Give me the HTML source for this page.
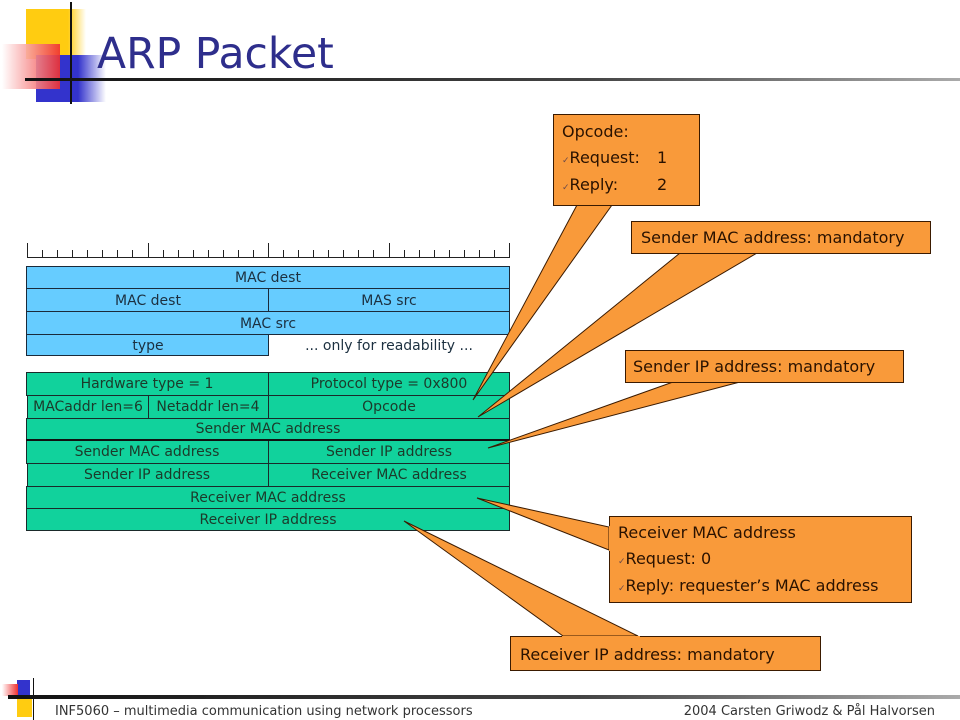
<!DOCTYPE html>
<html><head><meta charset="utf-8"><style>
html,body{margin:0;padding:0;background:#fff;}
svg{display:block;}
text{font-family:"DejaVu Sans","Liberation Sans",sans-serif;}
</style></head><body>
<svg width="960" height="720" viewBox="0 0 960 720" xmlns="http://www.w3.org/2000/svg">
<defs>
<linearGradient id="ln" x1="0" x2="1" y1="0" y2="0"><stop offset="0" stop-color="#111"/><stop offset="0.6" stop-color="#444"/><stop offset="1" stop-color="#aaa"/></linearGradient>
<linearGradient id="yl" x1="0" x2="1"><stop offset="0" stop-color="#ffcc11"/><stop offset="0.7" stop-color="#ffcc11"/><stop offset="1" stop-color="#fff"/></linearGradient>
<linearGradient id="rd" x1="1" x2="0"><stop offset="0" stop-color="#f03030"/><stop offset="1" stop-color="#fff"/></linearGradient>
<linearGradient id="bl" x1="0" x2="1"><stop offset="0" stop-color="#3333cc"/><stop offset="0.6" stop-color="#3333cc"/><stop offset="1" stop-color="#fff"/></linearGradient>
</defs>
<rect x="26" y="9" width="60" height="50" fill="url(#yl)"/>
<rect x="36" y="55" width="70" height="47" fill="url(#bl)"/>
<rect x="2" y="44" width="58" height="45" fill="url(#rd)" opacity="0.9"/>
<rect x="70" y="2" width="2" height="102" fill="#111"/>
<rect x="25" y="78" width="935" height="3" fill="url(#ln)"/>
<text x="97" y="68" font-size="42.5" fill="#2e2e8c">ARP Packet</text>

<g stroke="#222" stroke-width="1">
<line x1="27" y1="257.5" x2="510" y2="257.5"/>
<line x1="27.5" y1="243" x2="27.5" y2="257"/><line x1="148.5" y1="243" x2="148.5" y2="257"/><line x1="268.5" y1="243" x2="268.5" y2="257"/><line x1="389.5" y1="243" x2="389.5" y2="257"/><line x1="509.5" y1="243" x2="509.5" y2="257"/>
<path d="M42.5 250V257M57.5 250V257M72.5 250V257M87.5 250V257M102.5 250V257M117.5 250V257M132.5 250V257M163.5 250V257M178.5 250V257M193.5 250V257M208.5 250V257M223.5 250V257M238.5 250V257M253.5 250V257M283.5 250V257M298.5 250V257M313.5 250V257M328.5 250V257M343.5 250V257M358.5 250V257M373.5 250V257M404.5 250V257M419.5 250V257M434.5 250V257M449.5 250V257M464.5 250V257M479.5 250V257M494.5 250V257"/>
</g>

<g fill="#66ccff" stroke="#1a2a3a" stroke-width="1">
<rect x="26.5" y="266.5" width="483" height="22"/>
<rect x="26.5" y="288.5" width="242" height="23"/>
<rect x="268.5" y="288.5" width="241" height="23"/>
<rect x="26.5" y="311.5" width="483" height="23"/>
<rect x="26.5" y="334.5" width="242" height="21"/>
</g>
<g fill="#11d29c" stroke="#1a2a2a" stroke-width="1">
<rect x="26.5" y="372.5" width="242" height="23"/>
<rect x="268.5" y="372.5" width="241" height="23"/>
<rect x="27.5" y="395.5" width="121" height="23"/>
<rect x="148.5" y="395.5" width="120" height="23"/>
<rect x="268.5" y="395.5" width="241" height="23"/>
<rect x="26.5" y="418.5" width="483" height="21"/>
<rect x="26.5" y="440.5" width="242" height="23"/>
<rect x="268.5" y="440.5" width="241" height="23"/>
<rect x="27.5" y="463.5" width="241" height="23"/>
<rect x="268.5" y="463.5" width="241" height="23"/>
<rect x="26.5" y="486.5" width="483" height="22"/>
<rect x="26.5" y="508.5" width="483" height="22"/>
</g>
<line x1="26" y1="440" x2="510" y2="440" stroke="#111" stroke-width="2"/>
<g font-size="14" fill="#1c3040" text-anchor="middle">
<text x="268" y="282">MAC dest</text>
<text x="148" y="305">MAC dest</text>
<text x="389" y="305">MAS src</text>
<text x="268" y="328">MAC src</text>
<text x="148" y="350">type</text>
<text x="389" y="350">... only for readability ...</text>
</g>
<g font-size="14" fill="#1c3a2a" text-anchor="middle">
<text x="147" y="388">Hardware type = 1</text>
<text x="389" y="388">Protocol type = 0x800</text>
<text x="88" y="411">MACaddr len=6</text>
<text x="208" y="411">Netaddr len=4</text>
<text x="389" y="411">Opcode</text>
<text x="268" y="433">Sender MAC address</text>
<text x="147" y="456">Sender MAC address</text>
<text x="389" y="456">Sender IP address</text>
<text x="147" y="479">Sender IP address</text>
<text x="389" y="479">Receiver MAC address</text>
<text x="268" y="502">Receiver MAC address</text>
<text x="268" y="524">Receiver IP address</text>
</g>

<g fill="#f99a3a" stroke="#3a1a00" stroke-width="1">
<polygon points="577,205 612,205 473,400"/>
<polygon points="680,253 757,253 478,417"/>
<polygon points="673,382 740,382 488,448"/>
<polygon points="609,527 609,550 477,498"/>
<polygon points="563,636 638,636 404,521"/>
<rect x="553.5" y="114.5" width="146" height="91"/>
<rect x="631.5" y="221.5" width="299" height="32"/>
<rect x="625.5" y="350.5" width="278" height="32"/>
<rect x="609.5" y="516.5" width="302" height="86"/>
<rect x="510.5" y="636.5" width="310" height="34"/>
</g>
<g fill="#f99a3a">
<rect x="576" y="203" width="38" height="2"/>
<rect x="679" y="251" width="80" height="2"/>
<rect x="672" y="380" width="70" height="2"/>
<rect x="609" y="526" width="2" height="25"/>
<rect x="562" y="636" width="78" height="2"/>
</g>
<g font-size="16" fill="#2a1200">
<text x="562" y="137">Opcode:</text>
<text x="562" y="163"><tspan font-size="9" fill="#6a4a4a">✓</tspan>Request:<tspan x="657">1</tspan></text>
<text x="562" y="190"><tspan font-size="9" fill="#6a4a4a">✓</tspan>Reply:<tspan x="657">2</tspan></text>
<text x="641" y="243">Sender MAC address: mandatory</text>
<text x="633" y="372">Sender IP address: mandatory</text>
<text x="618" y="538">Receiver MAC address</text>
<text x="618" y="564"><tspan font-size="9" fill="#6a4a4a">✓</tspan>Request: 0</text>
<text x="618" y="591"><tspan font-size="9" fill="#6a4a4a">✓</tspan>Reply: requester’s MAC address</text>
<text x="520" y="660">Receiver IP address: mandatory</text>
</g>

<rect x="17" y="680" width="13" height="16" fill="#3333cc"/>
<rect x="2" y="684" width="16" height="12" fill="url(#rd)"/>
<rect x="17" y="699" width="15" height="18" fill="#ffcc11"/>
<rect x="33" y="678" width="1" height="42" fill="#111"/>
<rect x="8" y="695" width="952" height="4" fill="url(#ln)"/>
<text x="55" y="715" font-size="13" fill="#333">INF5060 – multimedia communication using network processors</text>
<text x="935" y="715" font-size="13" fill="#333" text-anchor="end">2004  Carsten Griwodz &amp; Pål Halvorsen</text>
</svg>
</body></html>
